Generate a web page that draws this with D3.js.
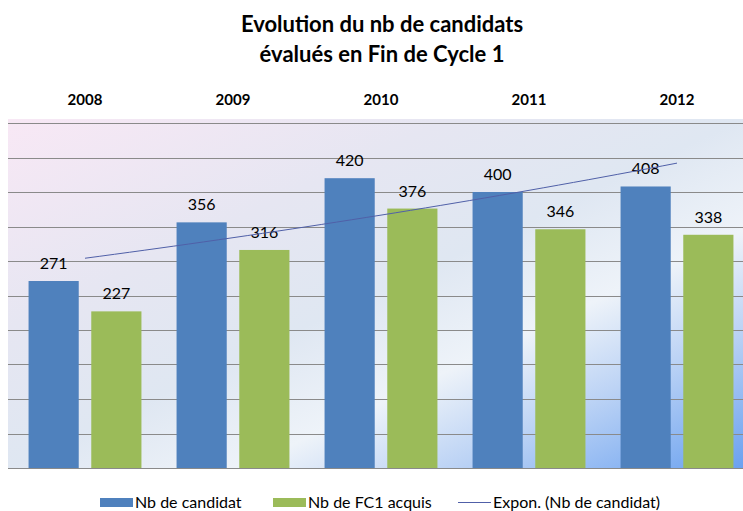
<!DOCTYPE html>
<html>
<head>
<meta charset="utf-8">
<script src="https://cdn.jsdelivr.net/npm/d3@7"></script>
<style>
  body { margin: 0; background: #fff; }
  svg { display: block; }
  text { font-family: Lato, "Liberation Sans", sans-serif; fill: #000; }
</style>
</head>
<body>
<svg width="743" height="511"></svg>
<script>
// data
var years = ["2008", "2009", "2010", "2011", "2012"];
var candidats = [271, 356, 420, 400, 408];
var acquis = [227, 316, 376, 346, 338];
var seriesNames = ["Nb de candidat", "Nb de FC1 acquis"];
var trendName = "Expon. (Nb de candidat)";
var titleLines = ["Evolution du nb de candidats", "évalués en Fin de Cycle 1"];

var width = 743, height = 511;
var svg = d3.select("svg");

var colors = { blue: "#4f81bd", green: "#9bbb59", trend: "#5060a8", grid: "#8a8a8a" };

// gradient behind the plot area
var defs = svg.append("defs");
var grad = defs.append("linearGradient")
    .attr("id", "bg")
    .attr("x1", 0).attr("y1", 0).attr("x2", 1).attr("y2", 1);
grad.selectAll("stop")
    .data([[0, "#f8e8f5"], [0.3, "#e6e6f2"], [0.5, "#dfe7f2"], [0.66, "#eef3f9"], [0.8, "#bcd3f5"], [1, "#6aa1f0"]])
    .enter().append("stop")
    .attr("offset", d => d[0])
    .attr("stop-color", d => d[1]);

var x = d3.scaleBand().domain(years).range([11, 751]);
var x1 = d3.scaleBand().domain(seriesNames).range([0, x.bandwidth()])
    .paddingInner(0.2).paddingOuter(0.28);
var y = d3.scaleLinear().domain([0, 500]).range([468, 123]);

svg.append("rect")
    .attr("x", 8).attr("y", y(500) - 4)
    .attr("width", width - 8).attr("height", y(0) - y(500) + 4)
    .attr("fill", "url(#bg)");

// gridlines
svg.append("g")
    .selectAll("line")
    .data(y.ticks(10))
    .enter().append("line")
    .attr("x1", 8).attr("x2", width)
    .attr("y1", d => Math.round(y(d)) + 0.5)
    .attr("y2", d => Math.round(y(d)) + 0.5)
    .attr("stroke", colors.grid)
    .attr("stroke-width", 1);

// title
svg.append("g")
    .selectAll("text")
    .data(titleLines)
    .enter().append("text")
    .attr("x", 382)
    .attr("y", (d, i) => 32 + i * 30)
    .attr("text-anchor", "middle")
    .attr("font-size", 22)
    .attr("font-weight", "bold")
    .text(d => d);

// year labels on top
var xAxis = svg.append("g")
    .attr("transform", "translate(0,105)")
    .call(d3.axisTop(x).tickSize(0).tickPadding(0));
xAxis.select(".domain").remove();
xAxis.selectAll("text")
    .attr("font-size", 15)
    .attr("font-weight", "bold")
    .attr("font-family", "Lato, sans-serif")
    .attr("fill", "#000");

var rows = years.map((yr, i) => ({ year: yr, values: [candidats[i], acquis[i]] }));

var groups = svg.append("g")
    .selectAll("g")
    .data(rows)
    .enter().append("g")
    .attr("transform", d => "translate(" + x(d.year) + ",0)");

groups.selectAll("rect")
    .data(d => d.values.map((v, k) => ({ name: seriesNames[k], value: v })))
    .enter().append("rect")
    .attr("x", d => x1(d.name))
    .attr("y", d => y(d.value))
    .attr("width", x1.bandwidth())
    .attr("height", d => y(0) - y(d.value))
    .attr("fill", (d, k) => k === 0 ? colors.blue : colors.green);

// exponential trendline fitted on the candidate series
var n = candidats.length;
var xs = d3.range(1, n + 1);
var lns = candidats.map(v => Math.log(v));
var mx = d3.mean(xs), ml = d3.mean(lns);
var b = d3.sum(xs, (t, i) => (t - mx) * (lns[i] - ml)) / d3.sum(xs, t => (t - mx) * (t - mx));
var a = ml - b * mx;
var trendPts = d3.range(1, n + 0.001, 0.1).map(t => ({ t: t, v: Math.exp(a + b * t) }));
var xt = d3.scaleLinear().domain([1, n])
    .range([x(years[0]) + x.bandwidth() / 2, x(years[n - 1]) + x.bandwidth() / 2]);

svg.append("path")
    .datum(trendPts)
    .attr("fill", "none")
    .attr("stroke", colors.trend)
    .attr("stroke-width", 1)
    .attr("d", d3.line().x(d => xt(d.t)).y(d => y(d.v)));

// data labels
groups.selectAll("text.lbl")
    .data(d => d.values.map((v, k) => ({ name: seriesNames[k], value: v })))
    .enter().append("text")
    .attr("class", "lbl")
    .attr("x", d => x1(d.name) + x1.bandwidth() / 2)
    .attr("y", d => y(d.value) - 12)
    .attr("text-anchor", "middle")
    .attr("font-size", 16)
    .attr("fill", "#1a1a1a")
    .text(d => d.value);

// legend
var legend = svg.append("g").attr("transform", "translate(0,502)");
var legItems = [
  { label: seriesNames[0], kind: "rect", color: colors.blue, x: 100 },
  { label: seriesNames[1], kind: "rect", color: colors.green, x: 273 },
  { label: trendName, kind: "line", color: colors.trend, x: 458 }
];
legItems.forEach(function(it) {
  if (it.kind === "rect") {
    legend.append("rect").attr("x", it.x).attr("y", -4).attr("width", 33).attr("height", 9).attr("fill", it.color);
  } else {
    legend.append("line").attr("x1", it.x).attr("x2", it.x + 33).attr("y1", 0.5).attr("y2", 0.5)
        .attr("stroke", it.color).attr("stroke-width", 1);
  }
  legend.append("text")
      .attr("x", it.x + 35)
      .attr("y", 6)
      .attr("font-size", 16)
      .text(it.label);
});
</script>
</body>
</html>
